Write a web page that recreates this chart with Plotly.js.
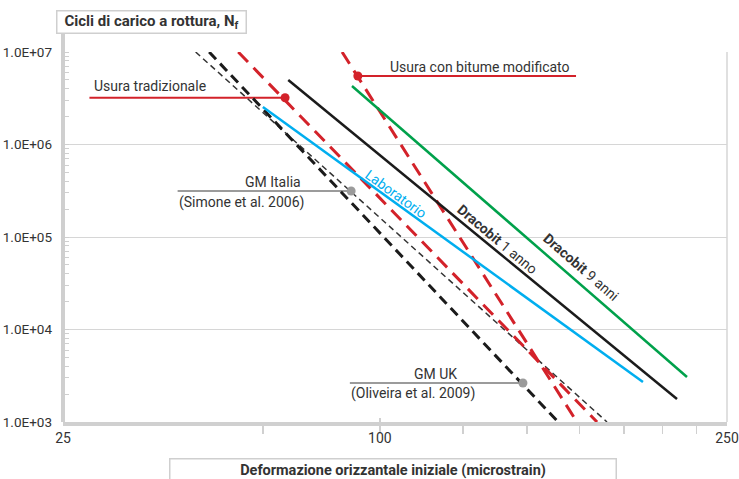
<!DOCTYPE html>
<html>
<head>
<meta charset="utf-8">
<script src="https://cdn.plot.ly/plotly-3.0.1.min.js"></script>
<style>
html,body{margin:0;padding:0;background:#fff;}
#chart{width:739px;height:479px;}
</style>
</head>
<body>
<div id="chart"></div>
<script>
// ---------- data (strain in microstrain, cycles to failure) ----------
const gmUkX = [41.5, 139.2];          // GM UK (Oliveira et al. 2009)
const gmUkY = [1.0e7, 1.0e3];
const gmItX = [39.6, 164.9];          // GM Italia (Simone et al. 2006)
const gmItY = [1.0e7, 1.0e3];
const usuraTradX = [45.9, 159.3];     // Usura tradizionale
const usuraTradY = [1.0e7, 1.0e3];
const usuraModX = [65.8, 148.6];      // Usura con bitume modificato
const usuraModY = [1.0e7, 1.0e3];
const labX = [50.0, 186.8];           // Laboratorio
const labY = [2.54e6, 2.71e3];
const draco1X = [54.6, 210.2];        // Dracobit 1 anno
const draco1Y = [4.98e6, 1.77e3];
const draco9X = [68.1, 217.6];        // Dracobit 9 anni
const draco9Y = [4.29e6, 3.07e3];

// callout points
const tradPointX = [54.0];  const tradPointY = [3.2e6];
const modPointX  = [69.5];  const modPointY  = [5.5e6];
const gmItPointX = [67.9];  const gmItPointY = [3.14e5];
const gmUkPointX = [123.2]; const gmUkPointY = [2.64e3];
// callout leader ends
const tradLeaderX = [27.4, 54.0];  const tradLeaderY = [3.2e6, 3.2e6];
const modLeaderX  = [69.5, 148.1]; const modLeaderY  = [5.5e6, 5.5e6];
const gmItLeaderX = [37.2, 67.9];  const gmItLeaderY = [3.14e5, 3.14e5];
const gmUkLeaderX = [67.6, 123.2]; const gmUkLeaderY = [2.64e3, 2.64e3];

// ticks
const xTickVals = [25, 75, 250];
const xTickText = ['25', '100', '250'];
const xMinorTickVals = [25, 50, 75, 100, 125, 150, 175, 200, 225, 250];
const yTickVals = [1e3, 1e4, 1e5, 1e6, 1e7];
const yTickText = ['1.0E+03', '1.0E+04', '1.0E+05', '1.0E+06', '1.0E+07'];

// ---------- styling ----------
const RED = '#d3222a', BLUE = '#00aeef', GREEN = '#00a14b', BLACK = '#1b1b1b', GREY = '#9b9b9b', TXT = '#333333';
const FONT = 'Roboto, "Open Sans", sans-serif';

// pixel helpers for label placement (plot area 63..727 x 52..422)
const L = 63, R = 727, T = 52, B = 422;
const px = v => (v - L) / (R - L);
const py = v => (B - v) / (B - T);

function line(x, y, color, width, dash) {
  return {x: x, y: y, type: 'scatter', mode: 'lines', hoverinfo: 'skip',
          line: {color: color, width: width, dash: dash || 'solid'}};
}
function dot(x, y, color) {
  return {x: x, y: y, type: 'scatter', mode: 'markers', hoverinfo: 'skip',
          marker: {color: color, size: 9}};
}

const traces = [
  line(tradLeaderX, tradLeaderY, RED, 2),
  line(modLeaderX, modLeaderY, RED, 2),
  line(gmItLeaderX, gmItLeaderY, GREY, 2),
  line(gmUkLeaderX, gmUkLeaderY, GREY, 2),
  line(gmItX, gmItY, '#333333', 1.5, '6px,4px'),
  line(gmUkX, gmUkY, BLACK, 3, '10px,6px'),
  line(usuraTradX, usuraTradY, RED, 3, '14px,8px'),
  line(usuraModX, usuraModY, RED, 3, '14px,8px'),
  line(labX, labY, BLUE, 2.5),
  line(draco1X, draco1Y, BLACK, 2.5),
  line(draco9X, draco9Y, GREEN, 2.5),
  dot(tradPointX, tradPointY, RED),
  dot(modPointX, modPointY, RED),
  dot(gmItPointX, gmItPointY, GREY),
  dot(gmUkPointX, gmUkPointY, GREY)
];

function ann(text, xpx, ypx, opts) {
  return Object.assign({text: text, xref: 'paper', yref: 'paper', x: px(xpx), y: py(ypx),
    showarrow: false, font: {family: FONT, size: 14, color: TXT},
    xanchor: 'center', yanchor: 'middle'}, opts || {});
}

const annotations = [
  ann('Usura tradizionale', 92, 86, {xanchor: 'left'}),
  ann('Usura con bitume modificato', 572, 67, {xanchor: 'right'}),
  ann('GM Italia', 303, 182, {xanchor: 'right'}),
  ann('(Simone et al. 2006)', 177, 202, {xanchor: 'left'}),
  ann('GM UK', 459, 374, {xanchor: 'right'}),
  ann('(Oliveira et al. 2009)', 349, 393, {xanchor: 'left'}),
  ann('Laboratorio', 396, 194, {textangle: 36, font: {family: FONT, size: 14, color: BLUE}}),
  ann('<b>Dracobit</b> 1 anno', 497, 239, {textangle: 40}),
  ann('<b>Dracobit</b> 9 anni', 581, 267, {textangle: 41}),
  ann('<b>Cicli di carico a rottura, N<sub>f</sub></b>', 151, 22,
      {bordercolor: '#cfcfcf', borderwidth: 1.5, borderpad: 0, bgcolor: '#fff', width: 188, height: 21,
       font: {family: FONT, size: 15, color: TXT}}),
  ann('<b>Deformazione orizzantale iniziale (microstrain)</b>', 393, 458,
      {yanchor: 'top', bordercolor: '#cfcfcf', borderwidth: 1.5, borderpad: 0, bgcolor: '#fff', width: 445, height: 22,
       font: {family: FONT, size: 14.5, color: TXT}})
];

const layout = {
  width: 739, height: 479,
  margin: {l: L, r: 739 - R, t: T, b: 479 - B},
  paper_bgcolor: '#fff', plot_bgcolor: '#fff',
  showlegend: false,
  font: {family: FONT, size: 13, color: TXT},
  xaxis: {
    type: 'log', range: [Math.log10(25), Math.log10(250)],
    tickmode: 'array', tickvals: xTickVals, ticktext: xTickText,
    showgrid: false, zeroline: false,
    showline: true, linecolor: '#d0d0d0', linewidth: 4,
    ticks: 'inside', ticklen: 4, tickwidth: 1.5, tickcolor: '#d0d0d0',
    tickfont: {family: FONT, size: 14, color: TXT},
    minor: {tickmode: 'array', tickvals: xMinorTickVals, ticks: 'outside', ticklen: 8,
            tickwidth: 1.5, tickcolor: '#d0d0d0', showgrid: false}
  },
  yaxis: {
    type: 'log', range: [3, 7],
    tickmode: 'array', tickvals: yTickVals, ticktext: yTickText,
    showgrid: true, gridcolor: '#d6d6d6', gridwidth: 1,
    zeroline: false, showline: false, ticks: '',
    ticklabelstandoff: 10,
    tickfont: {family: FONT, size: 13.5, color: TXT},
    minor: {ticks: 'inside', ticklen: 6, tickwidth: 1, tickcolor: '#cfcfcf', dtick: 'D1', showgrid: false}
  },
  shapes: [
    {type: 'line', xref: 'paper', yref: 'paper', x0: 0, x1: 0, y0: 0, y1: py(34),
     line: {color: '#cfcfcf', width: 4}, layer: 'above'},
    {type: 'line', xref: 'paper', yref: 'paper', x0: 1, x1: 1, y0: 0, y1: 1,
     line: {color: '#d6d6d6', width: 1.5}, layer: 'below'}
  ],
  annotations: annotations
};

Plotly.newPlot('chart', traces, layout, {staticPlot: true, displayModeBar: false});
</script>
</body>
</html>
